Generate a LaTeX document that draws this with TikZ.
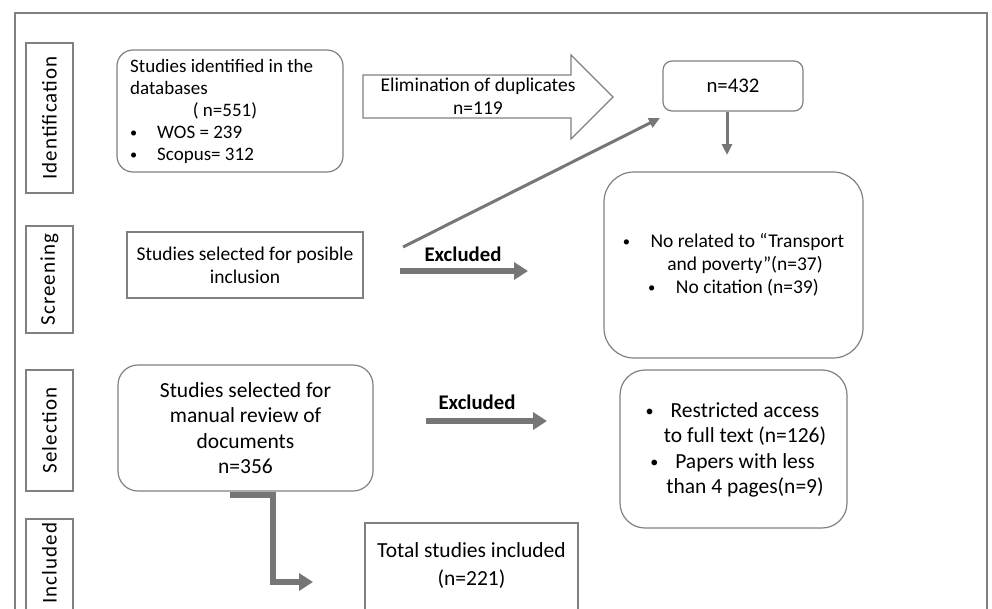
\documentclass[tikz,border=0pt]{standalone}
\usepackage{fontspec}
\setmainfont{Carlito}
\usetikzlibrary{arrows.meta}
\definecolor{prline}{HTML}{808080}
\definecolor{prarrow}{HTML}{767676}
\newcommand{\prdot}{\raisebox{1pt}{\scalebox{0.75}{\textbullet}}}
\newcommand{\prbullet}{\prdot\hspace{1.05em}}
\newcommand{\prhang}{\makebox[0pt][r]{\prdot\hspace{17pt}}}
\tikzset{
 pr frame/.style={draw=prline,line width=1.2pt},
 pr stage/.style={draw=prline,line width=1.2pt,rotate=90,minimum height=47pt,
                  inner sep=0pt,font=\fontsize{21}{25}\selectfont\addfontfeature{LetterSpace=5}},
 pr rect/.style={draw=prline,line width=1.2pt,inner sep=0pt},
 pr round/.style={pr rect,rounded corners=#1},
 pr round/.default=15pt,
 pr text/.style={align=center,inner sep=0pt,font=\fontsize{19.5}{23}\selectfont},
 pr big text/.style={align=center,inner sep=0pt,font=\fontsize{21.5}{25.5}\selectfont},
 pr excl/.style={inner sep=0pt,font=\bfseries\fontsize{20.8}{24}\selectfont},
 pr thin arrow/.style={draw=prarrow,line width=3pt,-{Triangle[length=11pt,width=10pt]}},
 pr thick arrow/.style={draw=prarrow,line width=5.5pt,-{Triangle[length=14pt,width=17pt]}}
}

\begin{document}
\begin{tikzpicture}[x=1pt,y=1pt]
 \useasboundingbox (0,0) rectangle (992,-608);
 \draw[pr frame] (15,-13) rectangle (987,-630);
 % stages
 \foreach \n/\y/\h/\t in {stid/118/150/Identification,stscr/279.5/107/Screening,
                          stsel/430.5/121/Selection}{
   \node[pr stage,minimum width=\h pt] (\n) at (49.5,-\y) {\t};
 }
 \node[pr stage,minimum width=110pt] (stinc) at (49.5,-574) {\hspace*{22pt}Included};
 % identification
 \node[pr round=16pt,minimum width=226pt,minimum height=122pt] (ids) at (230,-111) {};
 \node[pr text,align=left,anchor=west,font=\fontsize{19}{22}\selectfont] (idstxt)
   at (130,-111) {Studies identified in the\\databases\\\hspace*{3.3em}( n=551)\\
   \prbullet WOS = 239\\\prbullet Scopus= 312};
 \draw[pr rect] (363,-75) -- (571,-75) -- (571,-55) -- (613,-97) -- (571,-139)
   -- (571,-118) -- (363,-118) -- cycle;
 \node[pr text] (elim) at (478,-96.5) {Elimination of duplicates\\n=119};
 \node[pr round=9pt,minimum width=140pt,minimum height=50pt,
       font=\fontsize{20.8}{24}\selectfont] (n432) at (733,-86) {n=432};
 % screening
 \node[pr rect,pr text,minimum width=236pt,minimum height=66pt] (scr)
   at (245,-265) {Studies selected for posible\\inclusion};
 \node[pr round=30pt,minimum width=259pt,minimum height=186pt] (nrel) at (733.5,-265) {};
 \node[pr text] (nreltxt) at (733.5,-264.5) {\prbullet No related to “Transport\\
   \hspace*{23pt}and poverty”(n=37)\\\prbullet No citation (n=39)};
 \node[pr excl] (ex1) at (463,-254) {Excluded};
 % selection
 \node[pr round=20pt,pr big text,minimum width=255pt,minimum height=126pt] (sel)
   at (245.5,-428) {Studies selected for\\manual review of\\documents\\n=356};
 \node[pr round=25pt,minimum width=227pt,minimum height=158pt] (rst) at (733.5,-449) {};
 \node[pr big text] (rsttxt) at (745,-450) {\prhang Restricted access\\
   to full text (n=126)\\\prhang Papers with less\\than 4 pages(n=9)};
 \node[pr excl] (ex2) at (477,-402) {Excluded};
 % included
 \node[pr rect,minimum width=213pt,minimum height=114pt] (tot) at (471.5,-580) {};
 \node[pr text,font=\fontsize{21.5}{28}\selectfont] (tottxt) at (471.5,-566)
   {Total studies included\\(n=221)};
 % connectors
 \coordinate (dgs) at (403,-247);
 \coordinate (dge) at (660,-118);
 \coordinate (dwe) at (727,-155);
 \coordinate (ex1s) at (400,-271);
 \coordinate (ex1e) at (528,-271);
 \coordinate (ex2s) at (426,-421);
 \coordinate (ex2e) at (547,-421);
 \coordinate (lst) at (230,-495);
 \coordinate (lend) at (313,-582);
 \draw[pr thin arrow] (dgs) -- (dge);
 \draw[pr thin arrow] (n432.south -| dwe) -- (dwe);
 \draw[pr thick arrow] (ex1s) -- (ex1e);
 \draw[pr thick arrow] (ex2s) -- (ex2e);
 \draw[pr thick arrow] (lst) -- ++(43,0) |- (lend);
\end{tikzpicture}
\end{document}
